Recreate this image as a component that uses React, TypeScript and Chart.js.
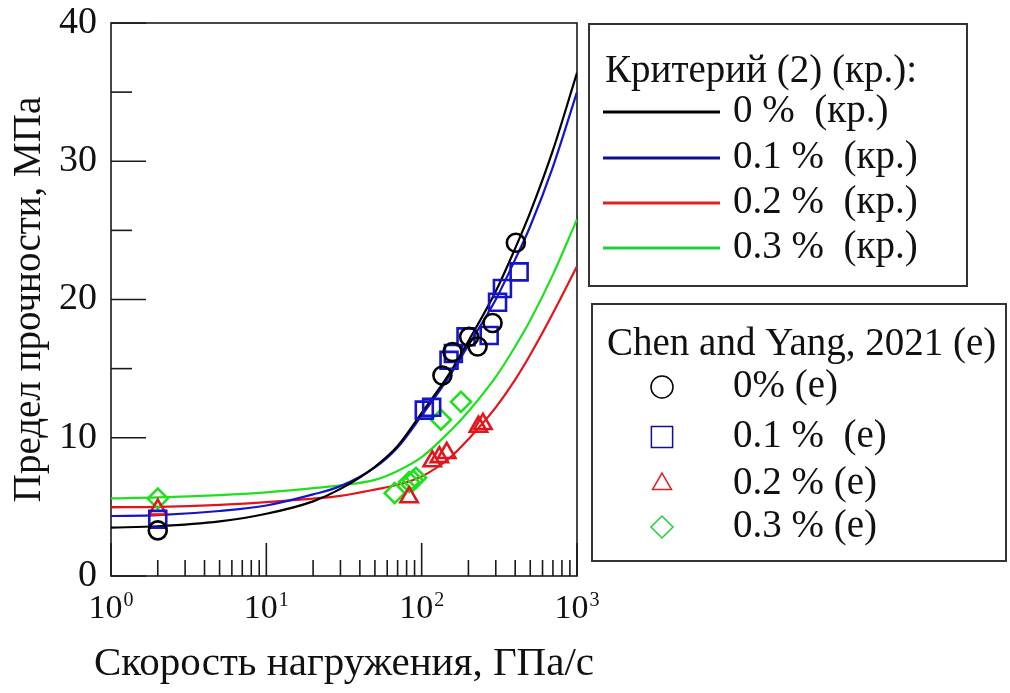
import React, { useEffect, useRef } from 'react';
import { Chart, registerables } from 'chart.js';

Chart.register(...registerables);

// ---------- data ----------
const RATE_GRID = [1, 2, 5, 10, 20, 30, 50, 70, 100, 150, 200, 300, 400, 500, 700, 1000];
const CRIT_0 = [3.5, 3.6, 3.95, 4.5, 5.4, 6.3, 7.9, 9.4, 11.8, 14.6, 17.0, 20.6, 23.7, 26.3, 30.8, 36.4];
const CRIT_01 = [4.34, 4.4, 4.7, 5.1, 5.9, 6.5, 7.85, 9.3, 11.6, 14.4, 16.7, 20.0, 22.9, 25.3, 29.6, 35.0];
const CRIT_02 = [4.97, 5.0, 5.15, 5.35, 5.6, 5.8, 6.25, 6.6, 7.2, 8.5, 9.9, 12.2, 14.2, 16.0, 19.0, 22.4];
const CRIT_03 = [5.62, 5.68, 5.85, 6.05, 6.35, 6.55, 6.95, 7.6, 8.6, 10.4, 11.9, 14.4, 16.6, 18.5, 21.8, 25.8];

const EXP_0_RATE = [2, 136, 158, 202, 229, 286, 404];
const EXP_0 = [3.3, 14.5, 16.2, 17.3, 16.6, 18.3, 24.1];
const EXP_01_RATE = [2, 104, 116, 150, 160, 193, 272, 308, 331, 424];
const EXP_01 = [4.1, 12.0, 12.2, 15.6, 16.1, 17.3, 17.4, 19.8, 20.8, 22.0];
const EXP_02_RATE = [2, 83, 117, 130, 145, 232, 248];
const EXP_02 = [4.8, 5.7, 8.3, 8.6, 8.9, 10.8, 11.0];
const EXP_03_RATE = [2, 67, 83, 88, 92, 133, 179];
const EXP_03 = [5.6, 6.0, 6.8, 6.9, 7.1, 11.3, 12.6];

const Y_TICKS = [0, 10, 20, 30, 40];
const Y_MINOR_TICKS = [5, 15, 25, 35];
const X_DECADES = [1, 10, 100, 1000];
const X_EXPONENTS = ['0', '1', '2', '3'];

const CRIT_TITLE = 'Критерий (2) (кр.):';
const CRIT_LABELS = ['0 %  (кр.)', '0.1 %  (кр.)', '0.2 %  (кр.)', '0.3 %  (кр.)'];
const EXP_TITLE = 'Chen and Yang, 2021 (e)';
const EXP_LABELS = ['0% (e)', '0.1 %  (e)', '0.2 % (e)', '0.3 % (e)'];
const X_TITLE = 'Скорость нагружения, ГПа/с';
const Y_TITLE = 'Предел прочности, МПа';

const COLORS = ['#000000', '#1515c8', '#e3141c', '#1fe01f'];
const LEGEND_COLORS = ['#000000', '#10108c', '#e02020', '#20d040'];
const POINT_STYLES = ['circle', 'rect', 'triangle', 'rectRot'];
const POINT_RADII = [9, 12, 10, 10];

const FONT = "'Liberation Serif', 'Times New Roman', serif";

const toXY = (xs: number[], ys: number[]) => xs.map((x, i) => ({ x, y: ys[i] }));

function drawMarker(ctx: CanvasRenderingContext2D, style: string, x: number, y: number, r: number) {
  ctx.beginPath();
  if (style === 'circle') {
    ctx.arc(x, y, r, 0, Math.PI * 2);
  } else if (style === 'rect') {
    const s = r * Math.SQRT1_2;
    ctx.rect(x - s, y - s, 2 * s, 2 * s);
  } else if (style === 'triangle') {
    ctx.moveTo(x, y - r);
    ctx.lineTo(x + r * 0.866, y + r * 0.5);
    ctx.lineTo(x - r * 0.866, y + r * 0.5);
    ctx.closePath();
  } else {
    ctx.moveTo(x, y - r);
    ctx.lineTo(x + r, y);
    ctx.lineTo(x, y + r);
    ctx.lineTo(x - r, y);
    ctx.closePath();
  }
  ctx.stroke();
}

const frameTicksPlugin = {
  id: 'frameTicks',
  beforeDatasetsDraw(chart: any) {
    const { ctx, chartArea: a, scales } = chart;
    const xs = scales.x;
    const ys = scales.y;
    ctx.save();
    ctx.strokeStyle = '#1a1a1a';
    ctx.lineWidth = 1.6;
    ctx.strokeRect(a.left, a.top, a.right - a.left, a.bottom - a.top);
    const seg = (x1: number, y1: number, x2: number, y2: number) => {
      ctx.beginPath();
      ctx.moveTo(x1, y1);
      ctx.lineTo(x2, y2);
      ctx.stroke();
    };
    Y_TICKS.forEach((v) => {
      const py = ys.getPixelForValue(v);
      seg(a.left, py, a.left + 35, py);
    });
    Y_MINOR_TICKS.forEach((v) => {
      const py = ys.getPixelForValue(v);
      seg(a.left, py, a.left + 21, py);
    });
    X_DECADES.forEach((d, i) => {
      const px = xs.getPixelForValue(d);
      seg(px, a.bottom, px, a.bottom - 33);
      if (i < X_DECADES.length - 1) {
        for (let m = 2; m <= 9; m++) {
          const pm = xs.getPixelForValue(d * m);
          seg(pm, a.bottom, pm, a.bottom - 16);
        }
      }
    });
    // x tick labels: 10 with superscript exponent
    ctx.fillStyle = '#111111';
    ctx.textBaseline = 'alphabetic';
    ctx.textAlign = 'left';
    X_DECADES.forEach((d, i) => {
      const px = xs.getPixelForValue(d);
      ctx.font = `34px ${FONT}`;
      const w1 = ctx.measureText('10').width;
      ctx.font = `20px ${FONT}`;
      const w2 = ctx.measureText(X_EXPONENTS[i]).width;
      const start = px - (w1 + w2 + 1) / 2;
      ctx.font = `34px ${FONT}`;
      ctx.fillText('10', start, a.bottom + 42);
      ctx.font = `20px ${FONT}`;
      ctx.fillText(X_EXPONENTS[i], start + w1 + 1, a.bottom + 30);
    });
    // x axis title
    ctx.font = `41px ${FONT}`;
    ctx.textAlign = 'center';
    ctx.fillText(X_TITLE, (a.left + a.right) / 2, 675);
    ctx.restore();
  },
};

const legendBoxesPlugin = {
  id: 'legendBoxes',
  afterDraw(chart: any) {
    const { ctx } = chart;
    ctx.save();
    ctx.strokeStyle = '#333333';
    ctx.lineWidth = 2;
    ctx.strokeRect(589, 24, 378, 262);
    ctx.strokeRect(592, 304, 414, 257);
    ctx.fillStyle = '#111111';
    ctx.font = `39px ${FONT}`;
    ctx.textBaseline = 'middle';
    ctx.textAlign = 'left';
    ctx.fillText(CRIT_TITLE, 605, 72);
    const rowsA = [112, 158, 203, 248];
    CRIT_LABELS.forEach((t, i) => {
      ctx.strokeStyle = LEGEND_COLORS[i];
      ctx.lineWidth = 3;
      ctx.beginPath();
      ctx.moveTo(603, rowsA[i]);
      ctx.lineTo(720, rowsA[i]);
      ctx.stroke();
      ctx.fillText(t, 733, rowsA[i]);
    });
    ctx.fillText(EXP_TITLE, 607, 345);
    const rowsB = [387, 437, 484, 527];
    EXP_LABELS.forEach((t, i) => {
      ctx.strokeStyle = LEGEND_COLORS[i];
      ctx.lineWidth = 1.5;
      drawMarker(ctx, POINT_STYLES[i], 662, rowsB[i], i === 1 ? 15 : 11);
      ctx.fillText(t, 733, rowsB[i]);
    });
    ctx.restore();
  },
};

export default function App() {
  const ref = useRef<HTMLCanvasElement | null>(null);
  useEffect(() => {
    document.body.style.margin = '0';
    const canvas = ref.current;
    if (!canvas) return;
    const curves = [CRIT_0, CRIT_01, CRIT_02, CRIT_03];
    const expX = [EXP_0_RATE, EXP_01_RATE, EXP_02_RATE, EXP_03_RATE];
    const expY = [EXP_0, EXP_01, EXP_02, EXP_03];
    const scatterSets = expY.map((ys, i) => ({
      type: 'scatter' as const,
      label: EXP_LABELS[i],
      data: toXY(expX[i], ys),
      showLine: false,
      pointStyle: POINT_STYLES[i],
      pointRadius: POINT_RADII[i],
      pointBorderWidth: 2.6,
      borderColor: COLORS[i],
      backgroundColor: 'rgba(0,0,0,0)',
      pointBackgroundColor: 'rgba(0,0,0,0)',
    }));
    const lineSets = curves.map((ys, i) => ({
      type: 'line' as const,
      label: CRIT_LABELS[i],
      data: toXY(RATE_GRID, ys),
      borderColor: COLORS[i],
      borderWidth: 2.2,
      pointRadius: 0,
      cubicInterpolationMode: 'monotone' as const,
      fill: false,
    }));
    const chart = new Chart(canvas, {
      type: 'scatter',
      data: { datasets: [...scatterSets, ...lineSets] as any },
      options: {
        animation: false,
        responsive: false,
        devicePixelRatio: 1,
        layout: { padding: { left: 0, top: 23, right: 433, bottom: 0 } },
        plugins: { legend: { display: false }, tooltip: { enabled: false } },
        scales: {
          x: {
            type: 'logarithmic',
            min: 1,
            max: 1000,
            grid: { display: false, drawTicks: false },
            border: { display: false },
            ticks: { display: false },
            title: { display: false, text: X_TITLE },
            afterFit: (s: any) => {
              s.height = 117;
              s.paddingLeft = 0;
              s.paddingRight = 0;
            },
          },
          y: {
            min: 0,
            max: 40,
            grid: { display: false, drawTicks: false },
            border: { display: false },
            ticks: {
              stepSize: 10,
              padding: 14,
              color: '#111111',
              font: { family: FONT, size: 38, lineHeight: 1.2 },
            },
            title: {
              display: true,
              text: Y_TITLE,
              color: '#111111',
              font: { family: FONT, size: 39 },
              padding: { top: 6, bottom: 0 },
            },
            afterFit: (s: any) => {
              s.width = 111;
              s.paddingTop = 0;
              s.paddingBottom = 0;
            },
          },
        },
      },
      plugins: [frameTicksPlugin, legendBoxesPlugin],
    });
    return () => chart.destroy();
  }, []);
  return (
    <div style={{ width: 1010, height: 693 }}>
      <canvas ref={ref} width={1010} height={693} style={{ display: 'block' }} />
    </div>
  );
}
